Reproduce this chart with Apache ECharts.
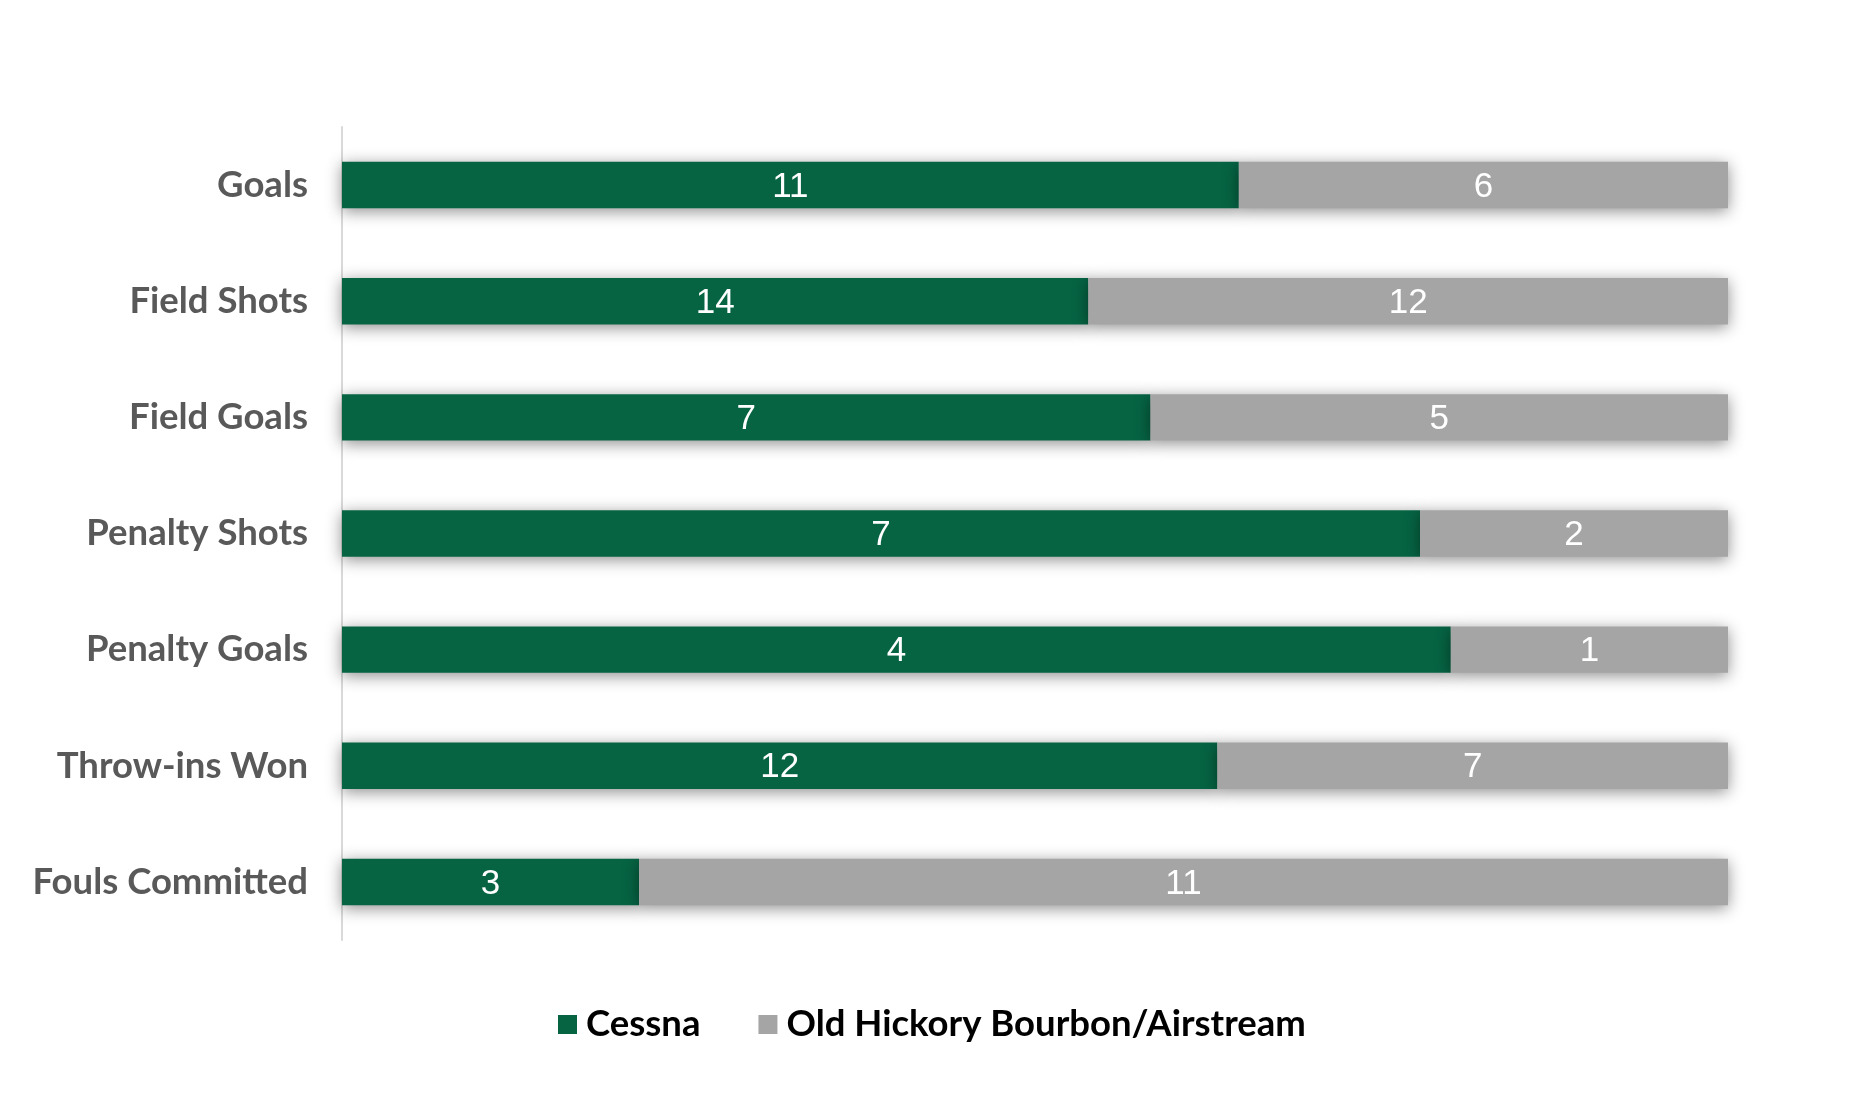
<!DOCTYPE html>
<html>
<head>
<meta charset="utf-8">
<script src="https://cdn.jsdelivr.net/npm/echarts@6/dist/echarts.min.js"></script>
<style>html,body{margin:0;padding:0;background:#fff;}#c{width:1851px;height:1095px;}</style>
</head>
<body>
<div id="c"></div>
<script>
const categories = ["Goals", "Field Shots", "Field Goals", "Penalty Shots", "Penalty Goals", "Throw-ins Won", "Fouls Committed"];
const seriesNames = ["Cessna", "Old Hickory Bourbon/Airstream"];
const cessna = [11, 14, 7, 7, 4, 12, 3];
const oldHickory = [6, 12, 5, 2, 1, 7, 11];

const share = (a, b) => a.map((v, i) => ({ value: v / (v + b[i]) * 100, raw: v }));

const chart = echarts.init(document.getElementById('c'));
const common = {
  type: 'bar',
  stack: 'total',
  barCategoryGap: '60%',
  label: {
    show: true,
    position: 'inside',
    offset: [0, 2],
    color: '#ffffff',
    fontFamily: 'Liberation Sans, Arial, sans-serif',
    fontSize: 35,
    formatter: p => p.data.raw
  }
};
chart.setOption({
  animation: false,
  backgroundColor: '#ffffff',
  grid: { left: 342, right: 123, top: 127, bottom: 155 },
  legend: {
    data: seriesNames,
    left: 553,
    top: 1001,
    icon: 'rect',
    itemWidth: 19,
    itemHeight: 19,
    itemGap: 58,
    textStyle: { fontFamily: 'Lato', fontWeight: 'bold', fontSize: 36.5, color: '#000000', padding: [0, 0, 0, 4] }
  },
  xAxis: { type: 'value', min: 0, max: 100, show: false },
  yAxis: {
    type: 'category',
    data: categories,
    inverse: true,
    axisLine: { show: true, lineStyle: { color: '#D9D9D9', width: 2 } },
    axisTick: { show: false },
    axisLabel: { margin: 34, fontFamily: 'Lato', fontWeight: 'bold', fontSize: 36.5, color: '#595959' }
  },
  series: [
    Object.assign({}, common, {
      name: seriesNames[0],
      data: share(cessna, oldHickory),
      itemStyle: { color: '#066443', shadowBlur: 16, shadowColor: 'rgba(0,0,0,0.45)', shadowOffsetY: 3 }
    }),
    Object.assign({}, common, {
      name: seriesNames[1],
      data: share(oldHickory, cessna),
      itemStyle: { color: '#A5A5A5', shadowBlur: 16, shadowColor: 'rgba(0,0,0,0.45)', shadowOffsetY: 3 }
    })
  ]
});
</script>
</body>
</html>
